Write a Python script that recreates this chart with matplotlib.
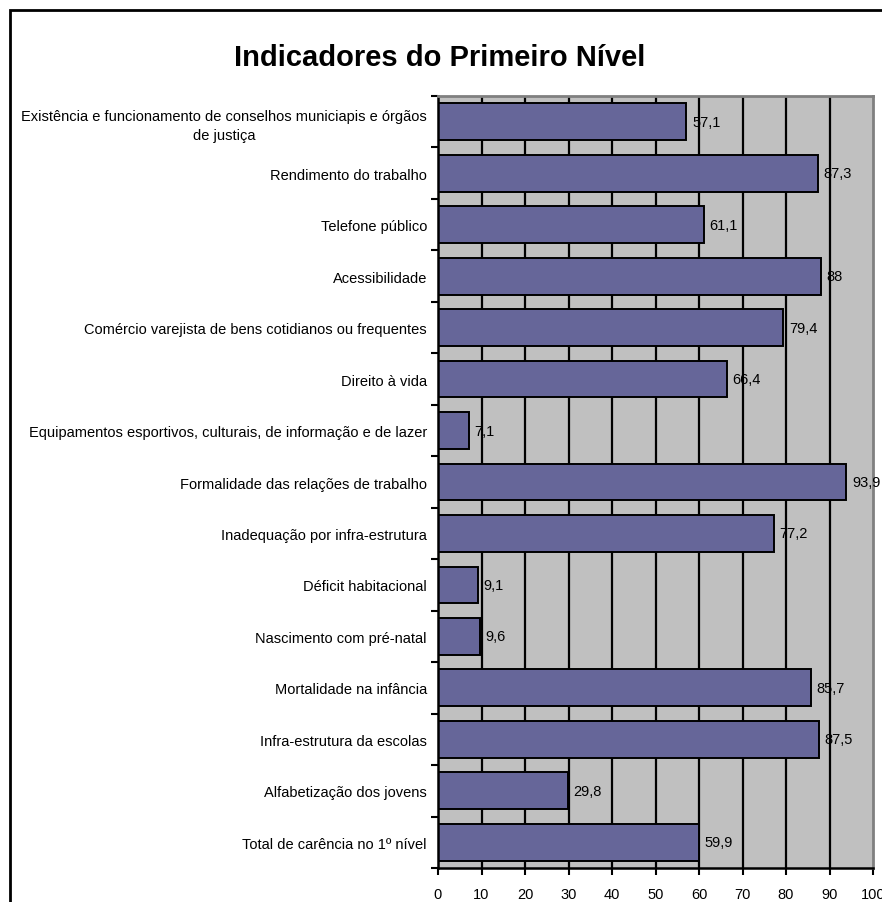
import matplotlib
matplotlib.use("Agg")
import matplotlib.pyplot as plt
from matplotlib.patches import Rectangle
import numpy as np

plt.rcParams['font.family'] = ['Liberation Sans', 'DejaVu Sans']

categories = [
    "Existência e funcionamento de conselhos municiapis e órgãos\nde justiça",
    "Rendimento do trabalho",
    "Telefone público",
    "Acessibilidade",
    "Comércio varejista de bens cotidianos ou frequentes",
    "Direito à vida",
    "Equipamentos esportivos, culturais, de informação e de lazer",
    "Formalidade das relações de trabalho",
    "Inadequação por infra-estrutura",
    "Déficit habitacional",
    "Nascimento com pré-natal",
    "Mortalidade na infância",
    "Infra-estrutura da escolas",
    "Alfabetização dos jovens",
    "Total de carência no 1º nível",
]
values = [57.1, 87.3, 61.1, 88, 79.4, 66.4, 7.1, 93.9, 77.2, 9.1, 9.6, 85.7, 87.5, 29.8, 59.9]
x_ticks = [0, 10, 20, 30, 40, 50, 60, 70, 80, 90, 100]
title = "Indicadores do Primeiro Nível"

W, H = 882, 903
fig = plt.figure(figsize=(W / 100, H / 100), dpi=100)
fig.patch.set_facecolor("white")

# outer chart frame
fig.patches.append(Rectangle((10 / W, -0.2), 1.2, 1.2 - 11 / H,
                             transform=fig.transFigure, fill=False,
                             edgecolor="black", linewidth=2, clip_on=False))

ax = fig.add_axes([438 / W, 1 - 869 / H, (873 - 438) / W, (869 - 97) / H])
ax.set_facecolor("#C0C0C0")

n = len(categories)
y = np.arange(n)
ax.set_xlim(0, 100)
ax.set_ylim(n - 0.5, -0.5)

for t in x_ticks[1:-1]:
    ax.axvline(t, color="black", linewidth=1.6, zorder=1)

ax.barh(y, values, height=0.714, color="#666699", edgecolor="black",
        linewidth=1.4, zorder=2)

fs = 10.5
for yi, v in zip(y, values):
    txt = f"{v:g}".replace(".", ",")
    ax.text(v + 1.3, yi, txt, va="center", ha="left", fontsize=fs, zorder=3)

ax.set_xticks(x_ticks)
ax.set_xticklabels([str(t) for t in x_ticks], fontsize=fs)
ax.set_yticks(y)
ax.set_yticklabels(categories, fontsize=fs, multialignment="center",
                   linespacing=1.4)
ax.tick_params(axis="y", length=0, pad=8)
ax.set_yticks(np.arange(n + 1) - 0.5, minor=True)
ax.tick_params(axis="y", which="minor", length=5, width=1.5, color="black")
ax.tick_params(axis="x", length=5, width=1.5, color="black", pad=9)

for side in ("left", "bottom"):
    ax.spines[side].set_color("black")
    ax.spines[side].set_linewidth(1.8)
for side in ("top", "right"):
    ax.spines[side].set_color("#808080")
    ax.spines[side].set_linewidth(2)

fig.text(440 / W, 1 - 58 / H, title, ha="center", va="center",
         fontsize=21, fontweight="bold")

fig.savefig("out.png", dpi=100)
